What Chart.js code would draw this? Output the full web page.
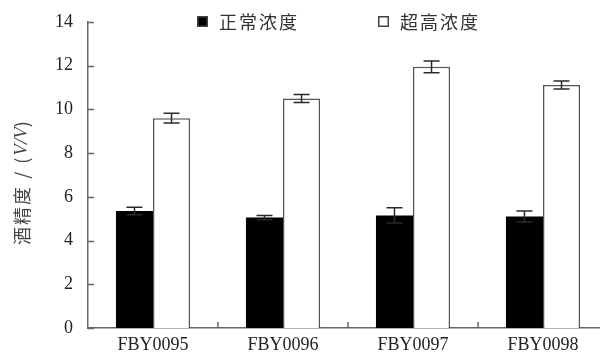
<!DOCTYPE html>
<html lang="zh">
<head>
    <meta charset="UTF-8">
    <script src="https://cdn.jsdelivr.net/npm/chart.js@4"></script>
    <title>酒精度</title>
    <style>
        body { margin: 0; overflow: hidden; background: #fff; }
        #wrap { width: 610px; height: 354px; position: relative; }
    </style>
</head>
<body>
    <div id="wrap"><canvas id="chart"></canvas></div>

    <script>
        // data
        const categories = ['FBY0095', 'FBY0096', 'FBY0097', 'FBY0098'];
        const normalVals = [5.35, 5.05, 5.15, 5.1];
        const normalErr  = [0.17, 0.1, 0.35, 0.25];
        const highVals   = [9.6, 10.5, 11.95, 11.12];
        const highErr    = [0.22, 0.18, 0.27, 0.18];
        const yMin = 0, yMax = 14, yStep = 2;

        const serif = '"Liberation Serif", "DejaVu Serif", serif';
        const cjk = '"Noto Sans CJK SC", sans-serif';
        const axisColor = '#666';

        // error bars drawn over the bars
        const errorBars = {
            id: 'errorBars',
            afterDatasetsDraw(chart) {
                const ctx = chart.ctx;
                const y = chart.scales.y;
                chart.data.datasets.forEach((ds, di) => {
                    const meta = chart.getDatasetMeta(di);
                    meta.data.forEach((bar, i) => {
                        const v = ds.data[i], e = ds.errors[i];
                        const top = y.getPixelForValue(v + e);
                        const bot = y.getPixelForValue(v - e);
                        ctx.save();
                        ctx.strokeStyle = '#2a2a2a';
                        ctx.lineWidth = 1.5;
                        ctx.beginPath();
                        ctx.moveTo(bar.x, top); ctx.lineTo(bar.x, bot);
                        ctx.moveTo(bar.x - 8, top); ctx.lineTo(bar.x + 8, top);
                        ctx.moveTo(bar.x - 8, bot); ctx.lineTo(bar.x + 8, bot);
                        ctx.stroke();
                        ctx.restore();
                    });
                });
            }
        };

        // inward tick marks, legend and rotated y title
        const decorations = {
            id: 'decorations',
            afterDraw(chart) {
                const ctx = chart.ctx;
                const x = chart.scales.x, y = chart.scales.y;
                const area = chart.chartArea;
                ctx.save();
                ctx.strokeStyle = axisColor;
                ctx.lineWidth = 1.5;
                ctx.beginPath();
                y.ticks.forEach(t => {
                    const py = Math.round(y.getPixelForValue(t.value)) + 0.5;
                    ctx.moveTo(area.left, py); ctx.lineTo(area.left + 6, py);
                });
                for (let i = 0; i < categories.length - 1; i++) {
                    const px = (x.getPixelForValue(i) + x.getPixelForValue(i + 1)) / 2;
                    ctx.moveTo(px, area.bottom); ctx.lineTo(px, area.bottom - 6);
                }
                ctx.stroke();

                // legend
                const ds = chart.data.datasets;
                const items = [{ x: 197, ds: ds[0] }, { x: 378, ds: ds[1] }];
                ctx.font = '18px ' + cjk;
                ctx.letterSpacing = '2px';
                ctx.textBaseline = 'middle';
                ctx.textAlign = 'left';
                items.forEach(it => {
                    ctx.fillStyle = it.ds.backgroundColor;
                    ctx.fillRect(it.x, 16, 11, 11);
                    ctx.strokeStyle = '#444';
                    ctx.lineWidth = 1.5;
                    ctx.strokeRect(it.x + 0.75, 16.75, 9.5, 9.5);
                    ctx.fillStyle = '#333';
                    ctx.fillText(it.ds.label, it.x + 22, 22);
                });

                // y title: 酒精度 / (V/V)
                ctx.translate(22, 183);
                ctx.rotate(-Math.PI / 2);
                const parts = [
                    { t: '酒精度 / (', f: '18px ' + cjk, ls: '2px' },
                    { t: 'V/V', f: 'italic 19px ' + serif, ls: '0px' },
                    { t: ')', f: '18px ' + cjk, ls: '0px' }
                ];
                let total = 0;
                parts.forEach(p => {
                    ctx.font = p.f; ctx.letterSpacing = p.ls;
                    p.w = ctx.measureText(p.t).width; total += p.w;
                });
                let cx = -total / 2;
                ctx.fillStyle = '#444';
                parts.forEach(p => {
                    ctx.font = p.f; ctx.letterSpacing = p.ls;
                    ctx.fillText(p.t, cx, 0); cx += p.w;
                });
                ctx.restore();
            }
        };

        new Chart(document.getElementById('chart'), {
            type: 'bar',
            data: {
                labels: categories,
                datasets: [{
                    label: '正常浓度',
                    data: normalVals,
                    errors: normalErr,
                    backgroundColor: '#000',
                    borderColor: '#000',
                    borderWidth: 0
                }, {
                    label: '超高浓度',
                    data: highVals,
                    errors: highErr,
                    backgroundColor: '#fff',
                    borderColor: '#555',
                    borderWidth: 1.5
                }]
            },
            options: {
                responsive: true,
                maintainAspectRatio: false,
                animation: false,
                layout: { padding: { top: 22, right: 2, left: 0, bottom: 0 } },
                datasets: { bar: { categoryPercentage: 0.57, barPercentage: 1.0 } },
                plugins: { legend: { display: false }, tooltip: { enabled: false } },
                scales: {
                    x: {
                        grid: { display: false, drawTicks: false },
                        border: { display: true, color: axisColor, width: 1.5 },
                        ticks: { font: { family: serif, size: 18 }, color: '#222', padding: 6 },
                        afterFit(s) { s.height = 26; }
                    },
                    y: {
                        min: yMin, max: yMax,
                        grid: { display: false },
                        border: { display: true, color: axisColor, width: 1.5 },
                        ticks: { stepSize: yStep, font: { family: serif, size: 18 }, color: '#222', padding: 7 },
                        afterFit(s) { s.width = 88; }
                    }
                }
            },
            plugins: [errorBars, decorations]
        });
    </script>
</body>
</html>
